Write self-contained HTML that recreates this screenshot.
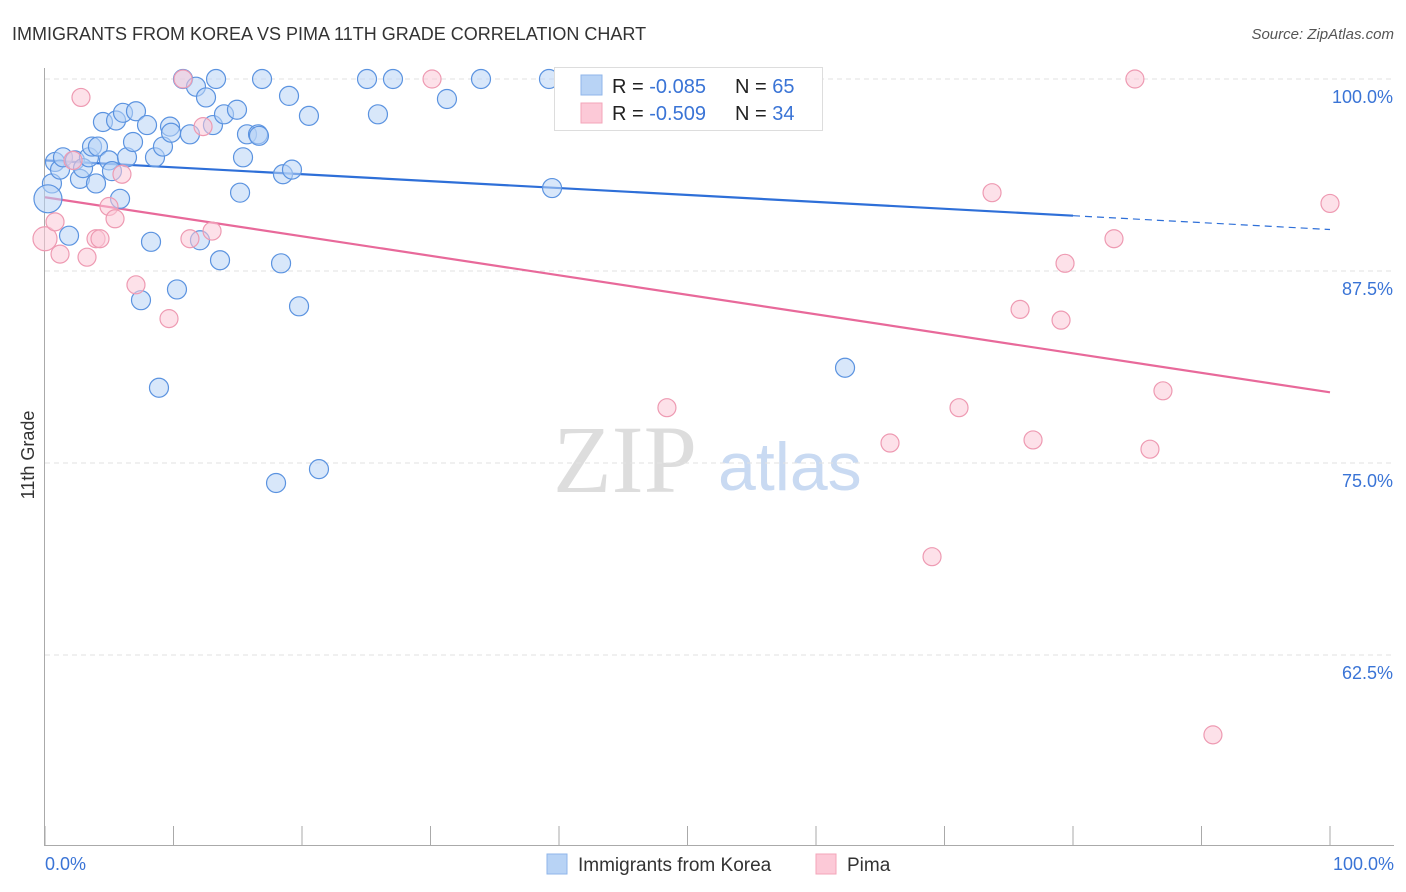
<!DOCTYPE html>
<html><head><meta charset="utf-8"><style>
body{margin:0;background:#fff;font-family:"Liberation Sans",sans-serif;}
svg{display:block}
</style></head><body>
<svg id="chart" width="1406" height="892">
<text x="12" y="40" font-size="18" fill="#333">IMMIGRANTS FROM KOREA VS PIMA 11TH GRADE CORRELATION CHART</text>
<text x="1394" y="39" font-size="15" fill="#555" font-style="italic" text-anchor="end">Source: ZipAtlas.com</text>
<g>
<text x="553" y="492" font-size="96" font-family="Liberation Serif,serif" fill="#ddd">ZIP</text>
<text x="718" y="490" font-size="68" fill="#c9daf2">atlas</text>
</g>
<g id="grid"></g><g id="axes"></g><g id="trend"></g><g id="pts"></g>
<text transform="translate(34,455) rotate(-90)" font-size="18" fill="#333" text-anchor="middle">11th Grade</text>
<g>
<rect x="554.5" y="67.5" width="268" height="63" fill="#fff" stroke="#ddd"/>
<rect x="581" y="75" width="21" height="20" fill="#b8d3f5" stroke="#8fb6ea"/>
<rect x="581" y="103" width="21" height="20" fill="#fcc9d7" stroke="#f3a5ba"/>
<text x="612" y="93" font-size="20" fill="#222">R = <tspan fill="#3a74d6">-0.085</tspan></text>
<text x="735" y="93" font-size="20" fill="#222">N = <tspan fill="#3a74d6">65</tspan></text>
<text x="612" y="120" font-size="20" fill="#222">R = <tspan fill="#3a74d6">-0.509</tspan></text>
<text x="735" y="120" font-size="20" fill="#222">N = <tspan fill="#3a74d6">34</tspan></text>
</g>
<g>
<rect x="547" y="854" width="20" height="20" fill="#b8d3f5" stroke="#8fb6ea"/>
<text x="578" y="871" font-size="19" fill="#333">Immigrants from Korea</text>
<rect x="816" y="854" width="20" height="20" fill="#fcc9d7" stroke="#f3a5ba"/>
<text x="847" y="871" font-size="19" fill="#333">Pima</text>
</g>
</svg>
<script>
const koreaX=[0.78,0.54,0.23,1.17,1.40,1.87,2.33,2.72,2.96,3.42,3.66,3.97,4.12,4.51,4.98,5.21,5.53,5.84,6.07,6.38,6.85,7.08,7.47,7.94,8.25,8.56,8.87,9.18,9.73,9.81,10.27,10.74,11.28,11.75,12.06,12.53,13.07,13.31,13.62,13.93,14.94,15.18,15.41,15.72,16.58,16.65,16.89,17.98,18.37,18.52,18.99,19.22,19.77,20.54,21.32,25.06,25.91,27.08,31.28,33.93,39.22,39.46,62.26];
const koreaY=[94.6,93.2,92.2,94.1,94.9,89.8,94.7,93.5,94.2,94.9,95.6,93.2,95.6,97.2,94.7,94.0,97.3,92.2,97.8,94.9,95.9,97.9,85.6,97.0,89.4,94.9,79.9,95.6,96.9,96.5,86.3,100,96.4,99.5,89.5,98.8,97.0,100,88.2,97.7,98.0,92.6,94.9,96.4,96.4,96.3,100,73.7,88.0,93.8,98.9,94.1,85.2,97.6,74.6,100,97.7,100,98.7,100,100,92.9,81.2];
const pimaX=[0,0.78,1.17,2.80,2.18,3.27,3.97,4.28,4.98,5.45,5.99,7.08,9.65,10.74,11.28,12.30,13.00,30.12,48.40,65.76,71.13,73.70,75.88,76.89,79.07,79.38,83.19,84.82,85.99,87.00,90.89,100,69.03];
const pimaY=[89.6,90.7,88.6,98.8,94.7,88.4,89.6,89.6,91.7,90.9,93.8,86.6,84.4,100,89.6,96.9,90.1,100,78.6,76.3,78.6,92.6,85.0,76.5,84.3,88.0,89.6,100,75.9,79.7,57.3,91.9,68.9];
const koreaTrend=[94.7,90.2];
const pimaTrend=[92.3,79.6];
const yTicks=[100,87.5,75,62.5];
const yTickLabels=["100.0%","87.5%","75.0%","62.5%"];
const xTickVals=[0,10,20,30,40,50,60,70,80,90,100];
const xLabels=["0.0%","100.0%"];
const NS="http://www.w3.org/2000/svg";
const X=v=>45+v*12.85, Y=v=>79+(100-v)*15.36;
function mk(t,a,p){const e=document.createElementNS(NS,t);for(const k in a)e.setAttribute(k,a[k]);p.appendChild(e);return e;}
const grid=document.getElementById('grid'),axes=document.getElementById('axes'),tr=document.getElementById('trend'),pts=document.getElementById('pts');
yTicks.forEach((v,i)=>{
 const l=mk('line',{x1:45,x2:1394,y1:Y(v),y2:Y(v),stroke:'#e2e2e2','stroke-dasharray':'5,4'},grid);
 
 
 const t=mk('text',{x:1393,y:Y(v)+24,'font-size':18,fill:'#3a74d6','text-anchor':'end'},grid);
 t.textContent=yTickLabels[i];
 
 
});
const ya=mk('line',{x1:44.5,x2:44.5,y1:68,y2:845,stroke:'#aaa'},axes);


const xa=mk('line',{x1:44,x2:1394,y1:845.5,y2:845.5,stroke:'#aaa'},axes);


xTickVals.forEach(v=>{
 const l=mk('line',{x1:X(v),x2:X(v),y1:826,y2:845,stroke:'#aaa'},axes);
 
 
});
[[0,'start',45],[100,'end',1394]].forEach((d,i)=>{
 const t=mk('text',{x:d[2],y:870,'font-size':18,fill:'#3a74d6','text-anchor':d[1]},axes);
 t.textContent=xLabels[i];
 
 
});
function dot(x,y,fill,stroke,r){const c=mk('circle',{cx:X(x),cy:Y(y),r:r,fill:fill,'fill-opacity':0.55,stroke:stroke,'stroke-width':1.2},pts);return c;}
koreaX.forEach((x,i)=>{
 const c=dot(x,koreaY[i],'#b8d3f5','#5b93e0',i===2?14:9.5);
 
 
});
pimaX.forEach((x,i)=>{
 const c=dot(x,pimaY[i],'#fcc9d7','#ee9ab2',i===0?12:9);
 
 
});
const kAt=x=>koreaTrend[0]+(koreaTrend[1]-koreaTrend[0])*x/100;
const l1=mk('line',{x1:X(0),y1:Y(kAt(0)),x2:X(80),y2:Y(kAt(80)),stroke:'#2e6fd8','stroke-width':2.2},tr);


const l2=mk('line',{x1:X(80),y1:Y(kAt(80)),x2:X(100),y2:Y(kAt(100)),stroke:'#2e6fd8','stroke-width':1.2,'stroke-dasharray':'7,5'},tr);


const l3=mk('line',{x1:X(0),y1:Y(pimaTrend[0]),x2:X(100),y2:Y(pimaTrend[1]),stroke:'#e8699a','stroke-width':2.2},tr);


</script>
</body></html>
